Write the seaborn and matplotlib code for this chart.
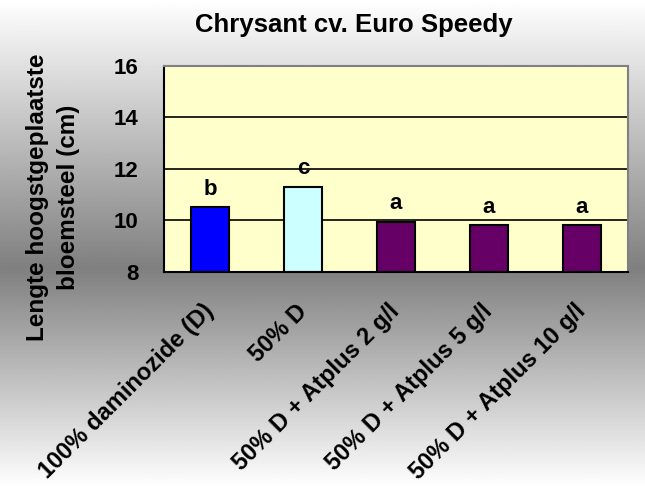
import numpy as np
import pandas as pd
import matplotlib
matplotlib.use("Agg")
import matplotlib.pyplot as plt
import seaborn as sns

treatments = ["100% daminozide (D)", "50% D", "50% D + Atplus 2 g/l",
              "50% D + Atplus 5 g/l", "50% D + Atplus 10 g/l"]
lengths = [10.5, 11.3, 9.95, 9.8, 9.8]
letters = ["b", "c", "a", "a", "a"]
bar_colors = ["#0000FF", "#CCFFFF", "#660066", "#660066", "#660066"]
yticks = [8, 10, 12, 14, 16]

df = pd.DataFrame({"treatment": treatments, "length": lengths})

sns.set_theme(style="white")
plt.rcParams["font.family"] = ["Liberation Sans", "DejaVu Sans"]
plt.rcParams["font.weight"] = "bold"
plt.rcParams["text.color"] = "black"
plt.rcParams["xtick.color"] = "black"
plt.rcParams["ytick.color"] = "black"
plt.rcParams["axes.labelcolor"] = "black"

fig = plt.figure(figsize=(6.45, 4.88), dpi=100)

# grey gradient background: white at top, dark in the middle, white at bottom
bg = fig.add_axes([0, 0, 1, 1], zorder=-10)
t = np.linspace(0, 1, 400)
shade = np.where(t < 0.55, 1 - 0.5 * (t / 0.55), 0.5 + 0.5 * ((t - 0.55) / 0.45))
bg.imshow(np.tile(shade[:, None], (1, 2)), cmap="gray", vmin=0, vmax=1,
          aspect="auto", extent=[0, 1, 0, 1])
bg.axis("off")

ax = fig.add_axes([0.254, 0.443, 0.72, 0.422])
ax.set_facecolor("#FFFFCC")
sns.barplot(data=df, x="treatment", y="length", hue="treatment",
            palette=bar_colors, saturation=1, legend=False, width=0.41,
            edgecolor="black", linewidth=1.5, ax=ax)

# Excel-style bars start at the axis minimum
for p in ax.patches:
    h = p.get_height()
    p.set_y(8)
    p.set_height(h - 8)

ax.set_ylim(8, 16)
ax.set_yticks(yticks)
for y in yticks[1:-1]:
    ax.axhline(y, color="black", lw=1.2, zorder=0.5)

for i, (v, lab) in enumerate(zip(lengths, letters)):
    ax.text(i, v + 0.5, lab, ha="center", va="baseline", fontsize=16, fontweight="bold")

ax.set_xlim(-0.5, len(treatments) - 0.5)
ax.set_xticks(np.arange(len(treatments) + 1) - 0.5, minor=True)
ax.tick_params(axis="x", which="major", length=0, pad=26)
ax.tick_params(axis="x", which="minor", length=6, width=1.2, color="black", direction="out")
ax.tick_params(axis="y", length=9, width=1.2, color="black", direction="out", labelsize=16, pad=9)
ax.set_xticks(range(len(treatments)))
ax.set_xticklabels(treatments, rotation=45, ha="right", va="center", rotation_mode="anchor",
                   fontsize=17, fontweight="bold")
for lbl in ax.get_yticklabels():
    lbl.set_fontweight("bold")

for side in ["left", "bottom"]:
    ax.spines[side].set_color("black")
    ax.spines[side].set_linewidth(1.5)
for side in ["top", "right"]:
    ax.spines[side].set_color("#808080")
    ax.spines[side].set_linewidth(1.5)

ax.set_xlabel("")
ax.set_ylabel("Lengte hoogstgeplaatste\nbloemsteel (cm)", fontsize=17.5,
              fontweight="bold", linespacing=1.45, va="center")
ax.yaxis.set_label_coords(-0.238, 0.362)

fig.text(0.548, 0.935, "Chrysant cv. Euro Speedy", ha="center", va="baseline",
         fontsize=18.5, fontweight="bold")

fig.savefig("out.png", dpi=100)
